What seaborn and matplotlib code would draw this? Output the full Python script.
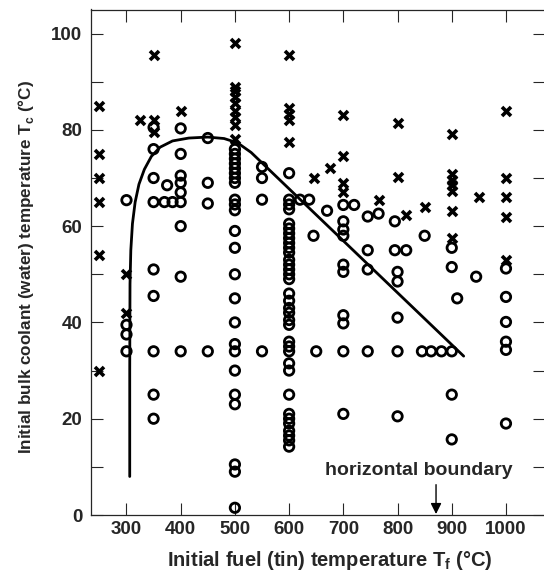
import numpy as np
import pandas as pd
import matplotlib
matplotlib.use("Agg")
import matplotlib.pyplot as plt
import seaborn as sns

# quench outcome points: x = fuel temp (C), y = coolant temp (C)
cross_x = [250, 250, 250, 250, 250, 250, 300, 300, 325, 350, 350, 350, 400,
           500, 500, 500, 500, 500, 500, 500, 500, 500,
           600, 600, 600, 600, 600, 645, 675, 700, 700, 700, 700, 765,
           800, 800, 815, 850, 900, 900, 900, 900, 900, 900, 900, 950,
           1000, 1000, 1000, 1000, 1000]
cross_y = [85, 75, 70, 65, 54, 30, 50, 42, 82, 95.5, 82, 79.5, 84,
           98, 89, 88, 86.8, 85.5, 84, 82.7, 81, 78,
           95.5, 84.5, 83.3, 82, 77.5, 70, 72, 83, 74.5, 69, 67, 65.5,
           81.5, 70.2, 62.3, 64, 79.2, 70.8, 69.6, 68.5, 67.4, 63.2, 57.5, 66,
           84, 70, 66, 62, 53]

circle_x = ([300] * 4 + [350] * 9 + [370, 375, 385] + [400] * 9 + [450] * 4
            + [500] * 24 + [550] * 4 + [600] * 35
            + [620, 637, 645, 650, 670] + [700] * 10 + [720] + [745] * 4
            + [765] + [795] * 2 + [800] * 5 + [816, 845, 850, 862, 881]
            + [900] * 5 + [910, 945] + [1000] * 6)
circle_y = ([65.4, 39.5, 37.5, 34]
            + [80.5, 76, 70, 65, 51, 45.5, 34, 25, 20]
            + [65, 68.5, 65]
            + [80.3, 75, 70.5, 69, 67, 65, 60, 49.5, 34]
            + [78.3, 69, 64.7, 34]
            + [76, 75, 74, 73, 72, 71, 70, 69, 65.5, 64.5, 63.3, 59, 55.5, 50,
               45, 40, 35.5, 34, 30, 25, 23, 10.5, 9, 1.5]
            + [72.3, 70, 65.5, 34]
            + [71, 65.5, 64.5, 63.5, 60.5, 59.5, 58.5, 57.5, 56.5, 55.5, 54.5,
               53, 52, 51, 50, 49, 46, 44.5, 43, 42, 40.5, 39.5, 36, 35, 34,
               31.5, 30, 25, 21, 20, 19, 17.5, 16.5, 15.5, 14.2]
            + [65.5, 65.5, 58, 34, 63.2]
            + [64.4, 61, 59.3, 58, 52, 50.5, 41.5, 39.8, 34, 21]
            + [64.4]
            + [62, 55, 51, 34]
            + [62.6]
            + [61, 55]
            + [50.5, 48.5, 41, 34, 20.5]
            + [55, 34, 58, 34, 34]
            + [55.5, 51.5, 34, 25, 15.7]
            + [45, 49.5]
            + [51.2, 45.3, 40.1, 36, 34.3, 19])

# boundary curve
curve_x = [306, 306, 306.5, 308, 311, 316, 323, 333, 346, 362, 385, 415, 450, 480, 505, 530, 922]
curve_y = [8, 30, 48, 55, 60.5, 65, 68.7, 71.8, 74.5, 76.4, 77.7, 78.3, 78.5, 78.2, 77.3, 75.3, 33]

x_ticks = [300, 400, 500, 600, 700, 800, 900, 1000]
y_ticks = [0, 20, 40, 60, 80, 100]

sns.set_style("ticks")
plt.rcParams['font.family'] = ['Liberation Sans', 'DejaVu Sans']
plt.rcParams['mathtext.fontset'] = 'custom'
plt.rcParams['mathtext.rm'] = 'Liberation Sans'
plt.rcParams['mathtext.bf'] = 'Liberation Sans:bold'

fig = plt.figure(figsize=(5.44, 5.72), dpi=100)
ax = fig.add_axes([90.7 / 544, 57 / 572, (545 - 90.7) / 544, (515 - 9.5) / 572])

circles = pd.DataFrame({"x": circle_x, "y": circle_y})
crosses = pd.DataFrame({"x": cross_x, "y": cross_y})

sns.scatterplot(data=circles, x="x", y="y", ax=ax, marker="o", s=46,
                facecolor="none", edgecolor="black", linewidth=2.0, clip_on=False)
sns.scatterplot(data=crosses, x="x", y="y", ax=ax, marker="x", s=42,
                color="black", linewidth=2.6)
sns.lineplot(x=curve_x, y=curve_y, ax=ax, sort=False, estimator=None,
             color="black", linewidth=2.0)

ax.set_xlim(234, 1072)
ax.set_ylim(0, 105)
ax.set_xticks(x_ticks)
ax.set_yticks(y_ticks)
ax.set_yticks([10, 30, 50, 70, 90], minor=True)
ax.tick_params(which="both", direction="in", length=8.5, width=0.8,
               top=True, right=True, labelsize=13.5)
ax.tick_params(axis="x", pad=4)
ax.tick_params(axis="y", pad=6)
for lab in ax.get_xticklabels() + ax.get_yticklabels():
    lab.set_fontweight("bold")
for sp in ax.spines.values():
    sp.set_linewidth(0.9)

ax.set_xlabel(r"Initial fuel (tin) temperature T$_{\mathbf{f}}$ (°C)",
              fontsize=14.5, fontweight="bold")
ax.set_ylabel(r"Initial bulk coolant (water) temperature T$_{\mathbf{c}}$ (°C)",
              fontsize=12.3, fontweight="bold")
ax.xaxis.set_label_coords(0.525, -0.068)
ax.yaxis.set_label_coords(-0.12, 0.49)

ax.text(840, 9.3, "horizontal boundary", ha="center", va="center",
        fontsize=14, fontweight="bold")
ax.annotate("", xy=(871, 0.2), xytext=(871, 6.3),
            arrowprops=dict(arrowstyle="-|>", color="black", lw=1.0,
                            mutation_scale=16, shrinkA=0, shrinkB=0))

fig.savefig("out.png", dpi=100)
